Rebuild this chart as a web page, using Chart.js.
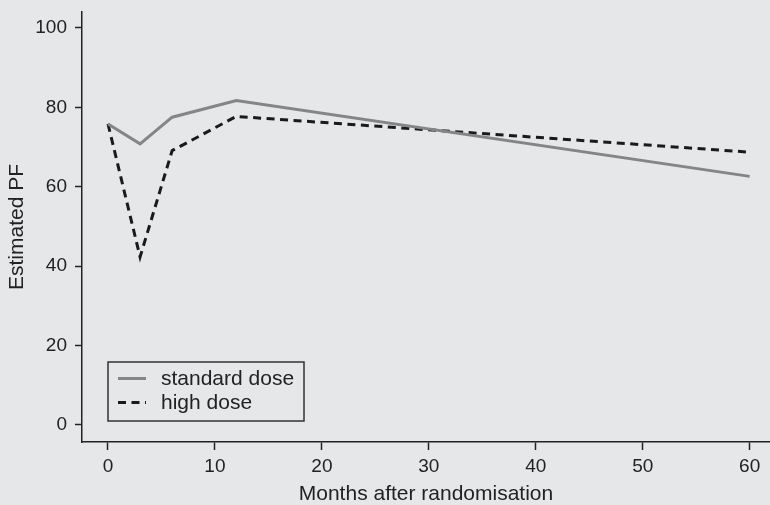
<!DOCTYPE html>
<html>
<head>
<meta charset="utf-8">
<script src="https://cdn.jsdelivr.net/npm/chart.js@4"></script>
<style>
    html, body { margin: 0; padding: 0; background: #e6e7e9; }
    #plotBox { width: 770px; height: 505px; }
</style>
</head>
<body>
<div id="plotBox"><canvas id="pfChart" width="770" height="505"></canvas></div>
<script>
// Estimated physical functioning over follow-up
const months = [0, 3, 6, 12, 60];
const standardDose = [75.8, 70.8, 77.5, 81.7, 62.6];
const highDose = [75.8, 42.3, 69.1, 77.7, 68.7];
const seriesNames = ["standard dose", "high dose"];
const xTicks = [0, 10, 20, 30, 40, 50, 60];
const yTicks = [0, 20, 40, 60, 80, 100];

const inkColor = "#222222";
const fontFamily = "'Liberation Sans', Arial, sans-serif";

function toPoints(xs, ys) {
    return xs.map((x, i) => ({ x: x, y: ys[i] }));
}

// Legend drawn inside the plot area, lower left, with a frame
const boxLegend = {
    id: "boxLegend",
    afterDraw(chart) {
        const ctx = chart.ctx;
        const area = chart.chartArea;
        const left = area.left + 26;
        const bottom = area.bottom - 21;
        const width = 196;
        const height = 59;
        const top = bottom - height;

        ctx.save();
        ctx.strokeStyle = "#333333";
        ctx.lineWidth = 1.5;
        ctx.strokeRect(left, top, width, height);

        ctx.font = "21px " + fontFamily;
        ctx.textBaseline = "middle";
        chart.data.datasets.forEach((ds, i) => {
            const y = top + 16.5 + i * 24;
            ctx.strokeStyle = ds.borderColor;
            ctx.lineWidth = ds.borderWidth;
            ctx.setLineDash(ds.borderDash || []);
            ctx.beginPath();
            ctx.moveTo(left + 10, y);
            ctx.lineTo(left + 38, y);
            ctx.stroke();
            ctx.setLineDash([]);
            ctx.fillStyle = inkColor;
            ctx.fillText(ds.label, left + 53, y + 1);
        });
        ctx.restore();
    }
};

const ctx = document.getElementById("pfChart");

new Chart(ctx, {
    type: "line",
    data: {
        datasets: [
            {
                label: seriesNames[0],
                data: toPoints(months, standardDose),
                borderColor: "#858585",
                borderWidth: 3,
                pointRadius: 0,
                tension: 0,
                fill: false
            },
            {
                label: seriesNames[1],
                data: toPoints(months, highDose),
                borderColor: "#1a1a1a",
                borderWidth: 3,
                borderDash: [8, 5.5],
                pointRadius: 0,
                tension: 0,
                fill: false
            }
        ]
    },
    options: {
        responsive: false,
        animation: false,
        layout: {
            padding: { top: 12, right: 0, left: 0, bottom: 0 }
        },
        plugins: {
            legend: { display: false },
            tooltip: { enabled: false }
        },
        scales: {
            x: {
                type: "linear",
                min: -2.43,
                max: 61.9,
                afterBuildTicks: (scale) => {
                    scale.ticks = xTicks.map((v) => ({ value: v }));
                },
                afterFit: (scale) => {
                    scale.height = 63;
                    scale.paddingRight = 0;
                },
                grid: {
                    display: true,
                    drawOnChartArea: false,
                    drawTicks: true,
                    tickLength: 8,
                    tickWidth: 1.5,
                    color: inkColor
                },
                border: { display: true, color: inkColor, width: 1.5 },
                ticks: {
                    color: inkColor,
                    font: { family: fontFamily, size: 19 },
                    padding: 5,
                    maxRotation: 0
                },
                title: {
                    display: true,
                    text: "Months after randomisation",
                    color: inkColor,
                    font: { family: fontFamily, size: 21, lineHeight: 1 },
                    padding: { top: 0, bottom: 0 }
                }
            },
            y: {
                type: "linear",
                min: -4.3,
                max: 104,
                afterBuildTicks: (scale) => {
                    scale.ticks = yTicks.map((v) => ({ value: v }));
                },
                afterFit: (scale) => {
                    // axis line sits at x = 82 and runs to the top margin
                    scale.width = 82;
                    scale.paddingTop = 0;
                    scale.paddingBottom = 0;
                },
                grid: {
                    display: true,
                    drawOnChartArea: false,
                    drawTicks: true,
                    tickLength: 7,
                    tickWidth: 1.5,
                    color: inkColor
                },
                border: { display: true, color: inkColor, width: 1.5 },
                ticks: {
                    color: inkColor,
                    font: { family: fontFamily, size: 19 },
                    padding: 8
                },
                title: {
                    display: true,
                    text: "Estimated PF",
                    color: inkColor,
                    font: { family: fontFamily, size: 21, lineHeight: 1.2 },
                    padding: { top: 5, bottom: 0 }
                }
            }
        }
    },
    plugins: [boxLegend]
});
</script>
</body>
</html>
